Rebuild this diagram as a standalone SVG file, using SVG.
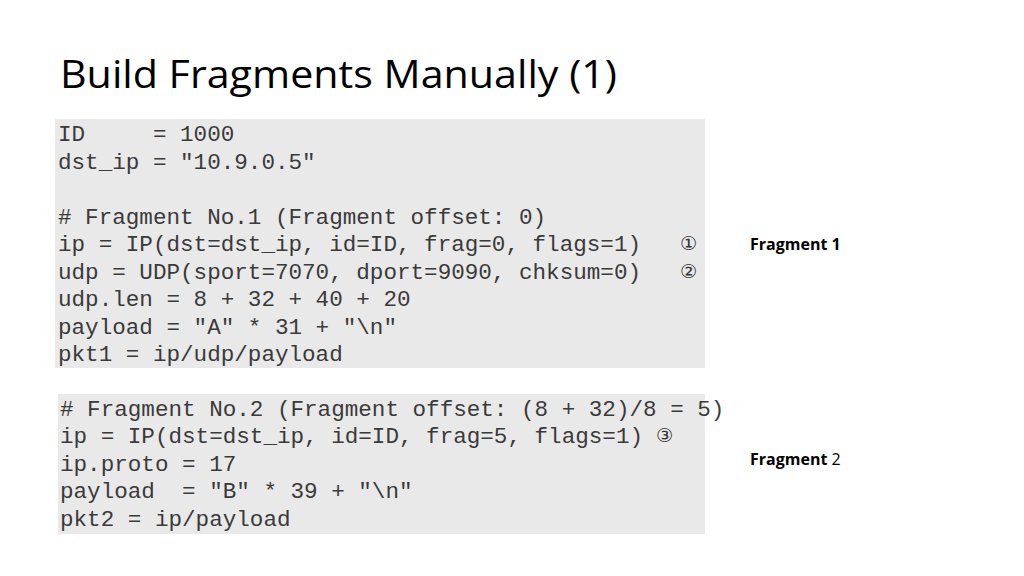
<svg xmlns="http://www.w3.org/2000/svg" width="1024" height="576" viewBox="0 0 1024 576">
<style>
.code{font-family:"Liberation Mono",monospace;font-size:22.6px;fill:#3a3a3a;white-space:pre}
.circ{font-family:"DejaVu Sans",sans-serif;font-size:19px;fill:#333}
.lbl{font-family:"Open Sans","Liberation Sans",sans-serif;font-size:16px;fill:#000}
</style>
<rect width="1024" height="576" fill="#fff"/>
<text x="60" y="88" font-family="Open Sans,Liberation Sans,sans-serif" font-size="38" fill="#000" textLength="557" lengthAdjust="spacingAndGlyphs">Build Fragments Manually (1)</text>
<g id="code1">
<rect x="55" y="119" width="650" height="249" fill="#e9e9e9"/>
<text class="code" xml:space="preserve"><tspan x="58" y="141">ID     = 1000</tspan><tspan x="58" y="169">dst_ip = "10.9.0.5"</tspan><tspan x="58" y="224"># Fragment No.1 (Fragment offset: 0)</tspan><tspan x="58" y="251">ip = IP(dst=dst_ip, id=ID, frag=0, flags=1)</tspan><tspan x="58" y="279">udp = UDP(sport=7070, dport=9090, chksum=0)</tspan><tspan x="58" y="306">udp.len = 8 + 32 + 40 + 20</tspan><tspan x="58" y="334">payload = "A" * 31 + "\n"</tspan><tspan x="58" y="361">pkt1 = ip/udp/payload</tspan></text>
<text class="circ" x="680" y="250">①</text>
<text class="circ" x="680" y="278">②</text>
</g>
<g id="code2">
<rect x="58" y="394" width="647" height="140" fill="#e9e9e9"/>
<text class="code" xml:space="preserve"><tspan x="60" y="416"># Fragment No.2 (Fragment offset: (8 + 32)/8 = 5)</tspan><tspan x="60" y="443">ip = IP(dst=dst_ip, id=ID, frag=5, flags=1)</tspan><tspan x="60" y="471">ip.proto = 17</tspan><tspan x="60" y="498">payload  = "B" * 39 + "\n"</tspan><tspan x="60" y="526">pkt2 = ip/payload</tspan></text>
<text class="circ" x="656" y="442">③</text>
</g>
<g id="label1"><text class="lbl" x="750" y="250" font-weight="bold">Fragment 1</text></g>
<g id="label2"><text class="lbl" x="750" y="465"><tspan font-weight="bold">Fragment</tspan> 2</text></g>
</svg>
